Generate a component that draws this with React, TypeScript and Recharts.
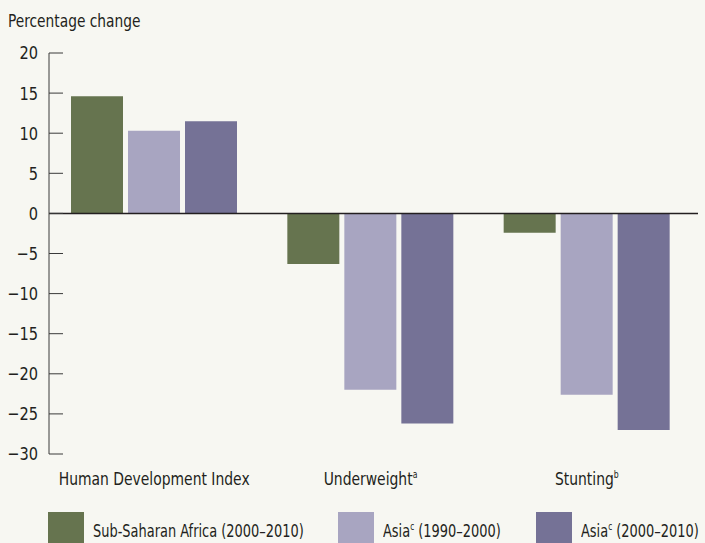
import { BarChart, Bar, XAxis, YAxis, ReferenceLine, Legend } from 'recharts'

const categories = ['Human Development Index', 'Underweight', 'Stunting']
const categorySup = ['', 'a', 'b']
const ssa2000 = [14.6, -6.3, -2.4]
const asia1990 = [10.3, -22.0, -22.6]
const asia2000 = [11.5, -26.2, -27.0]
const yTicks = [-30, -25, -20, -15, -10, -5, 0, 5, 10, 15, 20]

const seriesNames = ['Sub-Saharan Africa (2000\u20132010)', 'Asia (1990\u20132000)', 'Asia (2000\u20132010)']

const FONT = "'DejaVu Sans Condensed', 'DejaVu Sans', sans-serif"
const BG = '#f7f7f2'
const INK = '#231f20'
const GREEN = '#66744f'
const LAVENDER = '#a8a5c1'
const PURPLE = '#757296'

const data = categories.map((c, i) => ({
    name: c,
    ssa: ssa2000[i],
    asia90: asia1990[i],
    asia00: asia2000[i],
}))

function CategoryTick({ x, y, payload, index }: any) {
    const sup = categorySup[index]
    return (
        <text transform={`translate(${x},${y}) scale(0.86,1)`} x={0} y={0} dy="0.71em" textAnchor="middle" fontFamily={FONT} fontSize={18} fill={INK}>
            <tspan>{payload.value}</tspan>
            {sup && <tspan fontSize={10} dy={-7}>{sup}</tspan>}
        </text>
    )
}

function YTick({ x, y, payload }: any) {
    return (
        <text transform={`translate(${x},${y}) scale(0.9,1)`} x={0} y={0} dy="0.36em" textAnchor="end" fontFamily={FONT} fontSize={18} fill={INK}>
            {String(payload.value).replace('-', '\u2212')}
        </text>
    )
}

function LegendLabel({ name }: { name: string }) {
    // "Asia" carries a superscript c
    if (name.startsWith('Asia')) {
        return (
            <span>
                Asia<sup style={{ fontSize: 10, verticalAlign: 'top', lineHeight: '14px' }}>c</sup>{name.slice(4)}
            </span>
        )
    }
    return <span>{name}</span>
}

function CustomLegend() {
    const colors = [GREEN, LAVENDER, PURPLE]
    const itemWidths = [290, 198, 160]
    return (
        <div style={{ display: 'flex', alignItems: 'flex-start', paddingLeft: 48, fontFamily: FONT, fontSize: 18, color: INK }}>
            {seriesNames.map((n, i) => (
                <div key={n} style={{ display: 'flex', alignItems: 'flex-start', width: itemWidths[i], flex: 'none' }}>
                    <div style={{ width: 36, height: 36, background: colors[i], marginRight: 9, flex: 'none' }} />
                    <div style={{ paddingTop: 8, whiteSpace: 'nowrap', transform: 'scaleX(0.8)', transformOrigin: 'left' }}>
                        <LegendLabel name={n} />
                    </div>
                </div>
            ))}
        </div>
    )
}

function App() {
    return (
        <div style={{ position: 'absolute', left: 0, top: 0, width: 705, height: 543, background: BG, overflow: 'hidden' }}>
            <div style={{ position: 'absolute', left: 8, top: 11, fontFamily: FONT, fontSize: 17, color: INK, transform: 'scaleX(0.9)', transformOrigin: 'left' }}>
                Percentage change
            </div>
            <BarChart width={705} height={543} data={data} margin={{ top: 53, right: 7, left: 0, bottom: 0 }} barSize={52} barGap={5}>
                <XAxis
                    dataKey="name"
                    axisLine={false}
                    tickLine={false}
                    tick={<CategoryTick />}
                    tickMargin={12}
                    height={44}
                    padding={{ left: -3, right: 3 }}
                    interval={0}
                />
                <YAxis
                    domain={[-30, 20]}
                    ticks={yTicks}
                    width={49}
                    stroke="#3a3a3a"
                    tickSize={-14}
                    tickMargin={25}
                    tick={<YTick />}
                    interval={0}
                />
                <ReferenceLine y={0} stroke={INK} strokeWidth={1.5} />
                <Legend verticalAlign="bottom" align="left" height={45} content={<CustomLegend />} wrapperStyle={{ left: 0, top: 512, width: 705 }} />
                <Bar dataKey="ssa" name={seriesNames[0]} fill={GREEN} isAnimationActive={false} />
                <Bar dataKey="asia90" name={seriesNames[1]} fill={LAVENDER} isAnimationActive={false} />
                <Bar dataKey="asia00" name={seriesNames[2]} fill={PURPLE} isAnimationActive={false} />
            </BarChart>
        </div>
    )
}

export default App
